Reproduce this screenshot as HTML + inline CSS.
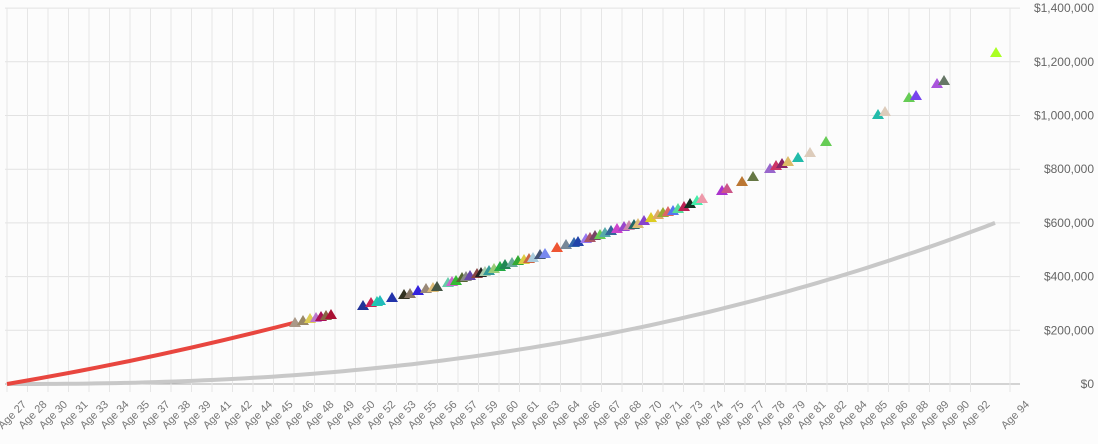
<!DOCTYPE html>
<html><head><meta charset="utf-8"><style>
html,body{margin:0;padding:0;background:#fcfcfc;}
svg{display:block;font-family:"Liberation Sans",sans-serif;}
</style></head><body>
<svg id="c" width="1098" height="444" xmlns="http://www.w3.org/2000/svg"></svg>
<script>
var s='';
var X0=7,Y0=384,YS=53.7;
for(var i=0;i<=7;i++){var y=Y0-i*YS;
 s+='<line x1="5" x2="1020" y1="'+y+'" y2="'+y+'" stroke="'+(i==0?'#aaa':'#e2e2e2')+'" stroke-width="1"/>';
 var lab=i==0?'$0':'$'+(i*200000).toLocaleString('en-US');
 s+='<text x="1094" y="'+(y+4)+'" font-size="12" fill="#666" text-anchor="end">'+lab+'</text>';}
var ages=[27,28,30,31,33,34,35,37,38,39,41,42,44,45,46,48,49,50,52,53,55,56,57,59,60,61,63,64,66,67,68,70,71,73,74,75,77,78,79,81,82,84,85,86,88,89,90,92];
var xs=[];
for(var i=0;i<ages.length;i++)xs.push([X0+i*20.5,ages[i]]);
xs.push([1010,94]);
xs.forEach(function(p){var x=p[0];
 s+='<line x1="'+x+'" x2="'+x+'" y1="8" y2="392" stroke="#e6e6e6" stroke-width="1"/>';
 s+='<text transform="translate('+(x+20)+',405) rotate(-45)" font-size="11" fill="#777" text-anchor="end">Age '+p[1]+'</text>';});
var d='M';for(var k=0;k<=100;k++){var t=k/100;var x=X0+t*988;var y=Y0-3*YS*Math.pow(t,2.35);d+=x.toFixed(1)+','+y.toFixed(1)+' ';}
s+='<path d="'+d+'" fill="none" stroke="#c8c8c8" stroke-width="4"/>';
s+='<path d="M7,384 Q150,360 297,322" fill="none" stroke="#e8463f" stroke-width="4"/>';
var pts=[[295,322],[303,320],[310,318],[316,317],[321,316],[326,315],[331,314],[363,305],[371,302],[377,301],[380,300],[392,297],[404,294],[410,293],[418,290],[426,288],[433,287],[437,286],[448,282],[452,281],[456,280],[462,277],[466,276],[470,275],[477,273],[481,272],[485,271],[489,270],[494,268],[500,266],[505,264],[512,262],[518,260],[524,259],[529,258],[533,257],[540,254],[545,253],[557,247],[566,244],[574,242],[578,241],[586,238],[590,237],[595,235],[600,234],[605,232],[611,230],[617,228],[624,226],[629,225],[634,224],[638,223],[644,220],[651,217],[658,214],[663,212],[668,211],[673,210],[678,208],[684,206],[690,203],[697,200],[702,198],[722,190],[727,188],[742,181],[753,176],[770,168],[776,165],[782,163],[788,161],[798,157],[810,152],[826,141],[878,114],[885,111],[909,97],[916,95],[937,83],[944,80],[996,52]];
var cols=['#aa9988','#998866','#ddcc55','#bb77cc','#aa1155','#886644','#aa1133','#223399','#cc2255','#22ccaa','#22bbbb','#2233aa','#333322','#887766','#3322dd','#998877','#ddbb77','#445544','#66ccaa','#cc66cc','#33bb33','#556633','#888888','#6644aa','#884444','#222222','#aaccaa','#339999','#99cc77','#22aa44','#228855','#66aa99','#33aa33','#ddcc44','#cc6644','#aaccdd','#445577','#7788ee','#ee5533','#778899','#3366aa','#2244aa','#9977ee','#aa5566','#774466','#66cc55','#55aaaa','#336699','#cc44cc','#9944cc','#cc88aa','#226666','#ddbb77','#8844cc','#ddcc22','#ddaa66','#99aa33','#dd6666','#5577ee','#55dd99','#bb2255','#113322','#44eeaa','#ee99aa','#aa33cc','#cc5588','#bb7733','#667744','#9966cc','#cc3366','#882266','#ddbb66','#22bbaa','#ddccbb','#66cc55','#7744ee','#aa55dd','#667766','#aaff22','#22bbaa','#ddccbb','#1a5566'];
var colsEnd={75:'#22bbaa',76:'#ddccbb',77:'#66cc55',78:'#7744ee',79:'#aa55dd',80:'#667766',81:'#aaff22',82:'#1a5566'};
pts.forEach(function(p,i){var x=p[0],y=p[1];var c=colsEnd[i]||cols[i%cols.length];
 s+='<path d="M'+(x-6)+','+(y+5)+' L'+x+','+(y-5)+' L'+(x+6)+','+(y+5)+' Z" fill="'+c+'"/>';});
document.getElementById('c').innerHTML=s;
</script>
</body></html>
